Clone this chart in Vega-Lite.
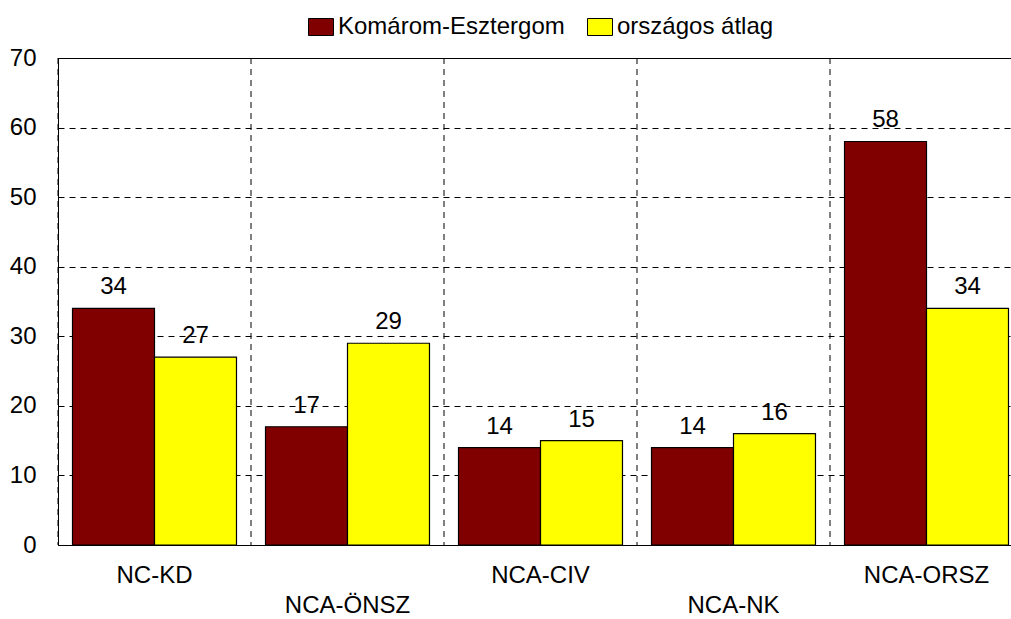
{
  "$schema": "https://vega.github.io/schema/vega-lite/v6.json",
  "width": 953,
  "height": 487,
  "autosize": "none",
  "padding": {"left": 58, "top": 58, "right": 0, "bottom": 74},
  "background": "white",
  "config": {
    "font": "Liberation Sans",
    "view": {"stroke": "black", "strokeWidth": 1},
    "axis": {"domainColor": "black", "labelColor": "black", "titleColor": "black"}
  },
  "data": {
    "values": [
      {"cat": "NC-KD", "series": "Komárom-Esztergom", "value": 34},
      {"cat": "NC-KD", "series": "országos átlag", "value": 27},
      {"cat": "NCA-ÖNSZ", "series": "Komárom-Esztergom", "value": 17},
      {"cat": "NCA-ÖNSZ", "series": "országos átlag", "value": 29},
      {"cat": "NCA-CIV", "series": "Komárom-Esztergom", "value": 14},
      {"cat": "NCA-CIV", "series": "országos átlag", "value": 15},
      {"cat": "NCA-NK", "series": "Komárom-Esztergom", "value": 14},
      {"cat": "NCA-NK", "series": "országos átlag", "value": 16},
      {"cat": "NCA-ORSZ", "series": "Komárom-Esztergom", "value": 58},
      {"cat": "NCA-ORSZ", "series": "országos átlag", "value": 34}
    ]
  },
  "layer": [
    {
      "transform": [{"filter": "datum.series == 'Komárom-Esztergom'"}],
      "mark": {"type": "rule", "color": "black", "strokeWidth": 1, "strokeDash": [6, 5]},
      "encoding": {
        "x": {
          "field": "cat", "type": "nominal", "sort": null, "bandPosition": 0,
          "scale": {"range": [0, 965], "paddingInner": 0, "paddingOuter": 0},
          "axis": {
            "title": null, "labelAngle": 0, "ticks": false, "grid": false,
            "labelFont": "Liberation Sans", "labelFontSize": 24,
            "labelPadding": 18, "labelLineHeight": 30, "labelOverlap": false,
            "labelBaseline": "top",
            "labelExpr": "(datum.value == 'NCA-ÖNSZ' || datum.value == 'NCA-NK') ? ['', datum.value] : datum.value"
          }
        }
      }
    },
    {
      "mark": {"type": "bar", "stroke": "black", "strokeWidth": 1.2},
      "encoding": {
        "x": {"field": "cat", "type": "nominal", "sort": null},
        "xOffset": {
          "field": "series", "type": "nominal", "sort": ["Komárom-Esztergom", "országos átlag"],
          "scale": {"paddingInner": 0, "paddingOuter": 0.177}
        },
        "y": {
          "field": "value", "type": "quantitative",
          "scale": {"domain": [0, 70], "nice": false},
          "axis": {
            "title": null, "values": [0, 10, 20, 30, 40, 50, 60, 70],
            "ticks": false, "labelPadding": 22,
            "labelFont": "Liberation Sans", "labelFontSize": 24,
            "grid": true, "gridColor": "black", "gridOpacity": 1, "gridDash": [6, 5], "gridWidth": 1
          }
        },
        "color": {
          "field": "series", "type": "nominal", "sort": ["Komárom-Esztergom", "országos átlag"],
          "scale": {"domain": ["Komárom-Esztergom", "országos átlag"], "range": ["#800000", "#FFFF00"]},
          "legend": {
            "title": null, "orient": "none", "direction": "horizontal",
            "legendX": 250, "legendY": -44, "padding": 0,
            "symbolType": "M-1,-0.68H1V0.68H-1Z", "symbolSize": 625,
            "symbolStrokeColor": "black", "symbolStrokeWidth": 1, "symbolOpacity": 1,
            "labelFont": "Liberation Sans", "labelFontSize": 24, "labelColor": "black",
            "labelOffset": 4, "columnPadding": 20, "labelLimit": 400
          }
        }
      }
    },
    {
      "mark": {"type": "text", "dy": -14, "baseline": "alphabetic", "font": "Liberation Sans", "fontSize": 24, "color": "black"},
      "encoding": {
        "x": {"field": "cat", "type": "nominal", "sort": null},
        "xOffset": {"field": "series", "type": "nominal", "sort": ["Komárom-Esztergom", "országos átlag"]},
        "y": {"field": "value", "type": "quantitative"},
        "text": {"field": "value", "type": "quantitative"}
      }
    }
  ]
}
